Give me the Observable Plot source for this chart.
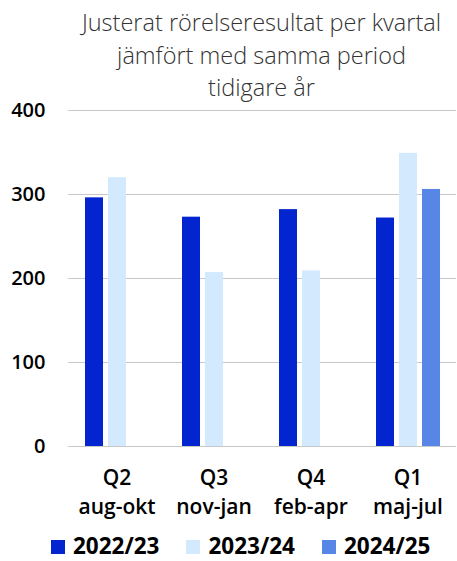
<!DOCTYPE html>
<html>
<head>
<meta charset="utf-8">
<script src="https://cdn.jsdelivr.net/npm/d3@7"></script>
<script src="https://cdn.jsdelivr.net/npm/@observablehq/plot@0.6"></script>
<style>
  html, body { margin: 0; padding: 0; background: #fff; }
  #wrap { position: relative; width: 457px; height: 561px; overflow: hidden; font-family: "Open Sans", sans-serif; }
  #title { position: absolute; top: 6px; left: 56px; width: 411px; text-align: center;
           font-size: 23.5px; font-weight: 300; line-height: 32.5px; color: #333; white-space: nowrap; }
  #chart { position: absolute; top: 100px; left: 0; }
  #legend { position: absolute; top: 532px; left: 51px; display: flex; align-items: baseline;
            font-size: 22.5px; font-weight: 700; color: #000; line-height: 28px; white-space: nowrap; }
  .sw { display: inline-block; width: 14px; height: 14px; margin-right: 8px; }
  .item { display: flex; align-items: baseline; margin-right: 27px; }
</style>
</head>
<body>
<div id="wrap">
  <div id="title">Justerat rörelseresultat per kvartal<br>jämfört med samma period<br>tidigare år</div>
  <div id="chart"></div>
  <div id="legend"></div>
</div>
<script>
const quarters = ["Q2\naug-okt", "Q3\nnov-jan", "Q4\nfeb-apr", "Q1\nmaj-jul"];
const series = ["2022/23", "2023/24", "2024/25"];
const colors = ["#0325cf", "#d3e9fd", "#5786e6"];
const v2022_23 = [296, 273, 282, 272];
const v2023_24 = [320, 207, 209, 349];
const v2024_25 = [null, null, null, 306];
const yTicks = [0, 100, 200, 300, 400];

const values = [v2022_23, v2023_24, v2024_25];
const data = [];
quarters.forEach((q, i) => {
  series.forEach((s, j) => {
    const v = values[j][i];
    if (v != null) data.push({quarter: q, series: s, value: v});
  });
});

const chart = Plot.plot({
  width: 457,
  height: 430,
  marginTop: 10,
  marginBottom: 84,
  marginLeft: 66,
  marginRight: 0,
  style: {fontFamily: "Open Sans", background: "transparent", color: "#000", overflow: "visible"},
  fx: {domain: quarters, padding: 0, label: null},
  x: {domain: series, paddingInner: 0.23, paddingOuter: 0.656, axis: null},
  y: {domain: [0, 400], axis: null},
  color: {domain: series, range: colors},
  marks: [
    Plot.gridY(yTicks, {stroke: "#c8c8c8", strokeOpacity: 1}),
    Plot.barY(data, {fx: "quarter", x: "series", y: "value", fill: "series"}),
    Plot.axisY(yTicks, {tickSize: 0, tickPadding: 23, fontSize: 20, fontWeight: 600, label: null}),
    Plot.axisFx({anchor: "bottom", tickSize: 0, tickPadding: 18, fontSize: 21, fontWeight: 600, lineHeight: 1.38, label: null})
  ]
});
document.getElementById("chart").appendChild(chart);

const legend = document.getElementById("legend");
series.forEach((s, i) => {
  const item = document.createElement("span");
  item.className = "item";
  const sw = document.createElement("span");
  sw.className = "sw";
  sw.style.background = colors[i];
  const t = document.createElement("span");
  t.textContent = s;
  item.appendChild(sw);
  item.appendChild(t);
  legend.appendChild(item);
});
</script>
</body>
</html>
